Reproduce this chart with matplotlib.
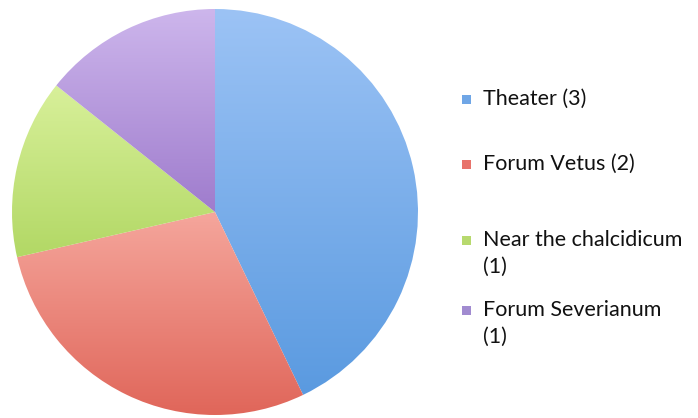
import numpy as np
import matplotlib
matplotlib.use("Agg")
from matplotlib import pyplot as plt
from matplotlib.colors import LinearSegmentedColormap
from matplotlib.patches import Rectangle

# 数据
labels = ["Theater", "Forum Vetus", "Near the chalcidicum", "Forum Severianum"]
counts = [3, 2, 1, 1]
legend_text = ["Theater (3)", "Forum Vetus (2)", "Near the chalcidicum\n(1)", "Forum Severianum\n(1)"]
# 上浅下深的渐变色
top_colors = ["#9cc3f5", "#f5a69c", "#d8f09a", "#cdb6ec"]
bottom_colors = ["#5a9ae0", "#e0665a", "#b2d865", "#9f7ccd"]
swatch_colors = ["#6fa6e6", "#e8736b", "#b7d96e", "#a18bd0"]

fig = plt.figure(figsize=(6.98, 4.18), dpi=100)
ax = fig.add_axes([12 / 698, 3 / 418, 406 / 698, 406 / 418])

wedges, _ = ax.pie(counts, startangle=90, counterclock=False, radius=1.0)
ax.set_aspect("equal")
ax.axis("off")

grad = np.linspace(0, 1, 256).reshape(-1, 1)
for w, c0, c1 in zip(wedges, top_colors, bottom_colors):
    w.set_facecolor("none")
    w.set_edgecolor("none")
    # 每一块取自己的上下范围做渐变
    pts = w.get_patch_transform().transform(w.get_path().vertices)
    y0, y1 = pts[:, 1].min(), pts[:, 1].max()
    cmap = LinearSegmentedColormap.from_list("g", [c1, c0])
    im = ax.imshow(grad, cmap=cmap, extent=[-1, 1, y0, y1], aspect="auto",
                   origin="lower", interpolation="bilinear", zorder=1)
    im.set_clip_path(w)
ax.set_xlim(-1, 1)
ax.set_ylim(-1, 1)

# 图例 (手动摆放)
ys = [99, 164, 240, 310]
for txt, col, y in zip(legend_text, swatch_colors, ys):
    fig.patches.append(Rectangle((462 / 698, 1 - (y + 5) / 418), 9 / 698, 9 / 418,
                                 transform=fig.transFigure, facecolor=col, edgecolor="none"))
    fig.text(483 / 698, 1 - (y - 10) / 418, txt, fontsize=15.5, family="Lato",
             color="#111111", va="top", ha="left", linespacing=1.4)

plt.savefig("out.png", dpi=100)
